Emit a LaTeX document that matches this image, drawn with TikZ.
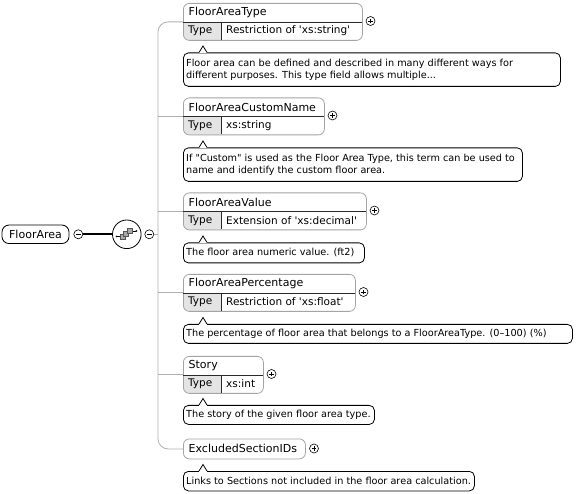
\documentclass[tikz,border=0pt]{standalone}
\usepackage{fontspec}
\setmainfont{DejaVu Sans}
\definecolor{elborder}{HTML}{A4A4A4}
\definecolor{treecol}{HTML}{B0B0B0}
\definecolor{cellgray}{HTML}{E4E4E4}
\definecolor{sepcol}{HTML}{2A2A2A}
\definecolor{sqfill}{HTML}{A8A8A8}
\definecolor{sqdraw}{HTML}{555555}
\newcommand\sq{\textquotesingle}
\newcommand\dq{\textquotedbl}
\tikzset{
  elembox/.style={draw=elborder, line width=0.8pt, rounded corners=6pt, inner sep=0pt},
  nametext/.style={font=\fontsize{11}{12}\selectfont, inner sep=0pt, anchor=west},
  typetext/.style={font=\fontsize{10.5}{12}\selectfont, inner sep=0pt, anchor=west},
  annottext/.style={font=\fontsize{9.7}{12.5}\selectfont, inner sep=0pt, align=left},
  annotbox/.style={draw=black, line width=0.8pt, rounded corners=5pt, inner sep=0pt},
  sepline/.style={draw=sepcol, line width=0.8pt},
  treeline/.style={draw=treecol, line width=0.8pt},
  plusnode/.style={circle, draw=black, line width=0.6pt, minimum size=9pt, inner sep=0pt, fill=white,
    path picture={
      \draw[line width=0.6pt] ([xshift=-2.4pt]path picture bounding box.center) -- ([xshift=2.4pt]path picture bounding box.center);
      \draw[line width=0.6pt] ([yshift=-2.4pt]path picture bounding box.center) -- ([yshift=2.4pt]path picture bounding box.center);}},
  minusnode/.style={circle, draw=black, line width=0.6pt, minimum size=9pt, inner sep=0pt, fill=white,
    path picture={
      \draw[line width=0.6pt] ([xshift=-2.4pt]path picture bounding box.center) -- ([xshift=2.4pt]path picture bounding box.center);}},
  sqbox/.style={fill=sqfill, draw=sqdraw, line width=0.5pt}
}
% typed element: id, top, right, name, type
\newcommand\typedelem[5]{%
  \pgfmathsetmacro\elw{#3-183}%
  \begin{scope}
    \clip[rounded corners=6pt] (183,-#2) rectangle (#3,{-#2-37});
    \fill[cellgray] (183,{-#2-19}) rectangle (221.5,{-#2-37});
  \end{scope}
  \node[elembox, minimum width=\elw pt, minimum height=37pt, anchor=north west] (#1) at (183,-#2) {};
  \draw[sepline] (183,{-#2-19}) -- (#3,{-#2-19});
  \draw[sepline] (221.5,{-#2-19}) -- (221.5,{-#2-37});
  \node[nametext] (#1-name) at (188.5,{-#2-9.5}) {#4};
  \node[typetext] (#1-tl) at (188,{-#2-28}) {Type};
  \node[typetext] (#1-tv) at (226,{-#2-28}) {#5};
  \node[plusnode] (#1-plus) at ({#3+8.5},{-#2-18}) {};
}
% annotation: id, top, bottom, right, text
\newcommand\annot[5]{%
  \pgfmathsetmacro\aw{#4-183}%
  \pgfmathsetmacro\ah{#3-#2}%
  \node[annotbox, minimum width=\aw pt, minimum height=\ah pt, anchor=north west] (#1) at (183,-#2) {};
  \fill[white] (199.4,{-#2-0.8}) rectangle (206.6,{-#2+0.8});
  \draw[line width=0.8pt, line join=miter] (199,-#2) -- (203,{-#2+6.5}) -- (207,-#2);
  \node[annottext, anchor=west] (#1-t) at ([xshift=3pt]#1.west) {#5};
}
\begin{document}
\begin{tikzpicture}[x=1pt,y=1pt]
\useasboundingbox (0,0) rectangle (584,-494);
\fill[white] (0,0) rectangle (584,-494);

% root
\node[draw=black, line width=0.8pt, rounded corners=7pt, minimum width=67pt, minimum height=18.5pt,
  inner sep=0pt, font=\fontsize{11}{12}\selectfont] (root) at (35.5,-234.3) {FloorArea};
\node[minusnode] (m1) at (78.3,-234.3) {};
\node[circle, draw=black, line width=0.8pt, minimum size=28.6pt, inner sep=0pt, fill=white] (seq) at (126.8,-234.3) {};
\draw[line width=1.8pt] (m1.east) -- (seq.west);
\node[minusnode] (m2) at (149.3,-234.3) {};
% sequence icon
\begin{scope}[shift={(seq.center)}]
  \draw[line width=0.6pt] (-10.3,-2.2) -- (-6.8,-2.2);
  \fill (-10.3,-2.2) circle (0.9);
  \draw[line width=0.6pt] (5.5,3.3) -- (9.6,3.3);
  \fill (9.6,3.3) circle (0.9);
  \draw[sqbox] (-6.8,-4.7) rectangle (-1.8,0.3);
  \draw[sqbox] (-3.5,-2.0) rectangle (1.5,3.0);
  \draw[sqbox] (0.5,0.6) rectangle (5.5,5.6);
\end{scope}

% elements
\typedelem{e1}{3}{362}{FloorAreaType}{Restriction of \sq xs:string\sq}
\annot{a1}{52.5}{86}{560}{Floor area can be defined and described in many different ways for\\different purposes. This type field allows multiple...}

\typedelem{e2}{97.5}{324}{FloorAreaCustomName}{xs:string}
\annot{a2}{147.5}{181}{522}{If \dq Custom\dq\ is used as the Floor Area Type, this term can be used to\\name and identify the custom floor area.}

\typedelem{e3}{192.5}{366}{FloorAreaValue}{Extension of \sq xs:decimal\sq}
\annot{a3}{242.5}{262.5}{364}{The floor area numeric value. (ft2)}

\typedelem{e4}{274}{355}{FloorAreaPercentage}{Restriction of \sq xs:float\sq}
\annot{a4}{324}{343}{572}{The percentage of floor area that belongs to a FloorAreaType. (0–100) (\%)}

\typedelem{e5}{356}{263}{Story}{xs:int}
\annot{a5}{405}{424}{374}{The story of the given floor area type.}

% untyped element
\node[elembox, minimum width=122pt, minimum height=20pt, anchor=north west, fill=white] (e6) at (183,-438.5) {};
\node[nametext] (e6-name) at (188.5,-448.5) {ExcludedSectionIDs};
\node[plusnode] (e6-plus) at (314,-448.5) {};
\annot{a6}{471}{490.5}{474}{Links to Sections not included in the floor area calculation.}

% tree
\coordinate (spine) at (158,-234.3);
\draw[treeline, rounded corners=10pt] (e1.west) -| (spine) |- (e6.west);
\foreach \e in {e2,e3,e4,e5} \draw[treeline] (\e.west) -- (\e.west -| spine);
\draw[treeline] (m2.east) -- (spine);
\end{tikzpicture}
\end{document}
